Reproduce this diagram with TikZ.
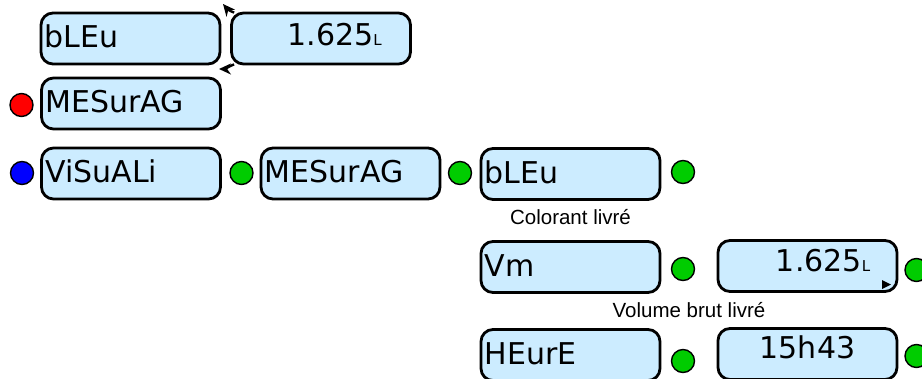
\documentclass[tikz,border=0pt]{standalone}
\usepackage{fontspec}
\usetikzlibrary{arrows.meta,calc}
\newfontfamily\dvfont{DejaVu Sans}
\newfontfamily\libfont{Liberation Sans}
\newcommand\myunitsize{\fontsize{15}{18}\selectfont}
\definecolor{boxblue}{RGB}{204,236,255}
\definecolor{dotgreen}{RGB}{0,204,0}
\tikzset{
  box/.style={draw=black, line width=2.8pt, fill=boxblue, rounded corners=12pt,
    minimum width=179pt, minimum height=51pt, inner sep=0pt},
  boxtxt/.style={anchor=base west, inner sep=0pt, font=\dvfont\fontsize{30}{36}\selectfont},
  valtxt/.style={anchor=base east, inner sep=0pt, font=\dvfont\fontsize{30}{36}\selectfont},
  ctrtxt/.style={anchor=base, inner sep=0pt, font=\dvfont\fontsize{30}{36}\selectfont},
  lbl/.style={anchor=base, inner sep=0pt, font=\libfont\fontsize{20.5}{24}\selectfont},
  dot/.style={circle, draw=black, line width=1.4pt, minimum size=23pt, inner sep=0pt},
  loop/.style={draw=black, line width=2.4pt, -{Stealth[length=12pt,width=11pt]}}
}
\begin{document}
\begin{tikzpicture}[x=1pt,y=-1pt]
\useasboundingbox (0,0) rectangle (922,378);
% boxes
\node[box] (A) at (130.5,38.5) {};
\node[box] (B) at (321,38.5) {};
\node[box] (C) at (131,103.5) {};
\node[box] (D) at (131,173.5) {};
\node[box] (E) at (350.5,173.5) {};
\node[box] (F) at (570.5,174) {};
\node[box] (G) at (570.5,267) {};
\node[box] (H) at (807.5,266) {};
\node[box] (I) at (570.5,355) {};
\node[box] (J) at (807.5,354) {};
% texts
\node[boxtxt] (tA) at ([xshift=5pt,yshift=-8.5pt]A.west) {bLEu};
\node[valtxt] (tB) at ([xshift=-30pt,yshift=-6.5pt]B.east) {1.625{\myunitsize L}};
\node[boxtxt] (tC) at ([xshift=5pt,yshift=-8.5pt]C.west) {MESurAG};
\node[boxtxt] (tD) at ([xshift=5pt,yshift=-9pt]D.west) {ViSuALi};
\node[boxtxt] (tE) at ([xshift=5pt,yshift=-9pt]E.west) {MESurAG};
\node[boxtxt] (tF) at ([xshift=5pt,yshift=-9pt]F.west) {bLEu};
\node[boxtxt] (tG) at ([xshift=5pt,yshift=-9pt]G.west) {Vm};
\node[valtxt] (tH) at ([xshift=-28pt,yshift=-5.5pt]H.east) {1.625{\myunitsize L}};
\node[boxtxt] (tI) at ([xshift=5pt,yshift=-9pt]I.west) {HEurE};
\node[ctrtxt] (tJ) at ([yshift=-4.5pt]J.center) {15h43};
% small triangle in H
\fill[black] (882,280) -- (891,284.5) -- (882,289) -- cycle;
% labels
\node[lbl] (lF) at ([yshift=-24pt]F.south) {Colorant livré};
\node[lbl] (lG) at ($([yshift=-24pt]G.south)!0.5!([yshift=-24pt]H.south)$) {Volume brut livré};
% dots
\node[dot, fill=red] (d1) at (21.5,105) {};
\node[dot, fill=blue] (d2) at (22,173) {};
\node[dot, fill=dotgreen] (d3) at (241.5,173) {};
\node[dot, fill=dotgreen] (d4) at (460,173) {};
\node[dot, fill=dotgreen] (d5) at (683,172) {};
\node[dot, fill=dotgreen] (d6) at (683,269) {};
\node[dot, fill=dotgreen] (d7) at (916.5,270) {};
\node[dot, fill=dotgreen] (d8) at (683,361) {};
\node[dot, fill=dotgreen] (d9) at (916.5,356) {};
% loop arrows between A and B
\coordinate (topTip) at (223,4);
\coordinate (botTip) at (219,69);
\draw[loop] ([xshift=4pt,yshift=-1pt]B.north west) to[out=160,in=-50] (topTip);
\draw[loop] ([xshift=4pt,yshift=1pt]B.south west) to[out=-160,in=0] (botTip);
\end{tikzpicture}
\end{document}
